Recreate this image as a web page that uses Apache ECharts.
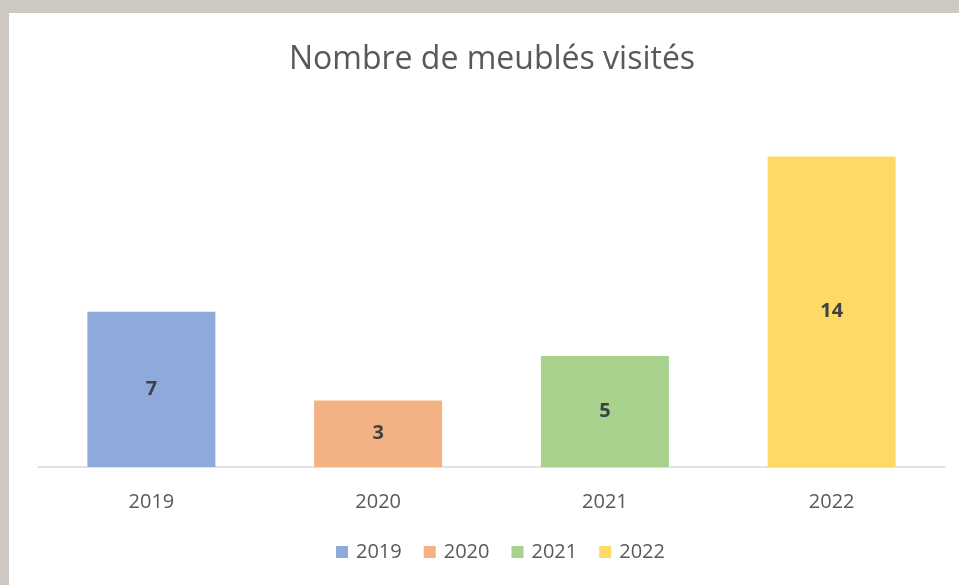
<!DOCTYPE html>
<html>
<head>
<meta charset="utf-8">
<script src="https://cdn.jsdelivr.net/npm/echarts@6/dist/echarts.min.js"></script>
<style>
  html, body { margin: 0; padding: 0; background: #cdc8c1; width: 959px; height: 585px; overflow: hidden; }
  #chart { position: absolute; left: 9px; top: 13px; width: 950px; height: 572px; background: #fff; }
</style>
</head>
<body>
<div id="chart"></div>
<script>
// données
var years = ['2019', '2020', '2021', '2022'];
var visits = [7, 3, 5, 14];
var colors = ['#8eaadb', '#f4b183', '#a9d18e', '#ffd966'];

var myChart = echarts.init(document.getElementById('chart'));

// une série par année pour avoir la légende, empilées pour rester centrées
var series = years.map(function (y, i) {
  return {
    name: y,
    type: 'bar',
    stack: 'total',
    barWidth: 128,
    itemStyle: { color: colors[i] },
    label: {
      show: true,
      position: 'inside',
      color: '#404040',
      fontWeight: 'bold',
      fontSize: 20,
      fontFamily: 'Open Sans'
    },
    data: years.map(function (_, j) { return j === i ? visits[i] : '-'; })
  };
});

myChart.setOption({
  animation: false,
  title: {
    text: 'Nombre de meublés visités',
    left: 478,
    top: 26,
    textAlign: 'center',
    textStyle: {
      color: '#595959',
      fontSize: 32,
      fontWeight: 'normal',
      fontFamily: 'Open Sans'
    }
  },
  legend: {
    data: years,
    bottom: 18,
    left: 322,
    itemWidth: 12,
    itemHeight: 12,
    itemGap: 22,
    icon: 'rect',
    textStyle: { color: '#595959', fontSize: 20, fontFamily: 'Open Sans', padding: [0, 0, 0, 3] }
  },
  grid: { left: 29, right: 14, top: 99, bottom: 118 },
  xAxis: {
    type: 'category',
    data: years,
    axisTick: { show: false },
    axisLine: { lineStyle: { color: '#d9d9d9', width: 1.5 } },
    axisLabel: { color: '#595959', fontSize: 20, margin: 25, fontFamily: 'Open Sans' }
  },
  yAxis: {
    type: 'value',
    min: 0,
    max: 16,
    show: false,
    splitLine: { show: false }
  },
  series: series
});
</script>
</body>
</html>
